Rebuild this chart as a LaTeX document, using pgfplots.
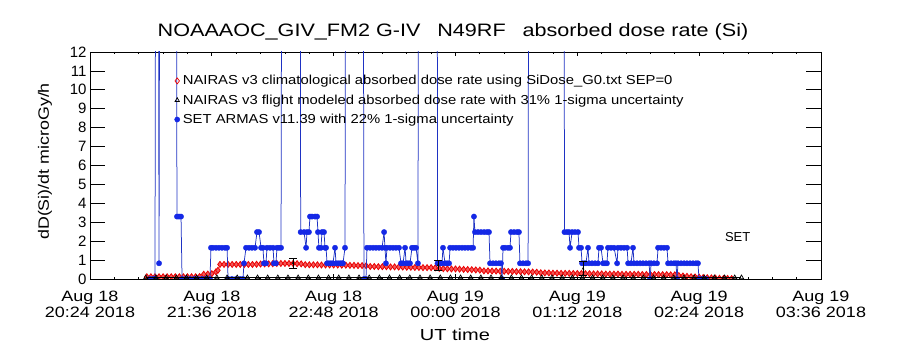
\documentclass[border=0pt]{standalone}
\usepackage{fontspec}
\setmainfont{Liberation Sans}
\usepackage{graphicx}
\usepackage{pgfplots}
\pgfplotsset{compat=1.18}
\definecolor{armas}{RGB}{20,40,230}
\definecolor{armasline}{RGB}{30,50,195}
\definecolor{nairas}{RGB}{235,0,0}
\newcommand{\xl}[2]{\scalebox{1.2}[1]{\begin{tabular}{@{}c@{}}#1\\#2\end{tabular}}}
\begin{document}
\begin{tikzpicture}
\useasboundingbox (-90pt,-71pt) rectangle (810pt,279pt);
\begin{axis}[
  at={(0pt,0pt)}, anchor=south west,
  scale only axis, width=731pt, height=227pt,
  xmin=0, xmax=432, ymin=0, ymax=12,
  clip marker paths=true,
  xtick={0,72,144,216,288,360,432},
  xticklabels={\xl{Aug 18}{20:24 2018},\xl{Aug 18}{21:36 2018},\xl{Aug 18}{22:48 2018},\xl{Aug 19}{00:00 2018},\xl{Aug 19}{01:12 2018},\xl{Aug 19}{02:24 2018},\xl{Aug 19}{03:36 2018}},
  minor x tick num=4,
  ytick={0,1,...,12},
  tick align=inside, tick pos=both, ticklabel pos=left,
  axis line style={line width=0.9pt},
  xtick style={black, line width=0.8pt, /pgfplots/major tick length=4.5pt, /pgfplots/minor tick length=2.3pt},
  ytick style={black, line width=0.8pt, /pgfplots/major tick length=14.6pt},
  xticklabel style={font=\fontsize{15}{16}\selectfont, yshift=-8pt},
  yticklabel style={font=\fontsize{15}{15}\selectfont, /pgf/number format/assume math mode=true},
  title={\scalebox{1.2}[1]{NOAAAOC\_GIV\_FM2 G-IV\hspace{14pt}N49RF\hspace{14pt}absorbed dose rate (Si)}},
  title style={font=\fontsize{18}{18}\selectfont, at={(axis description cs:0.4966,1.0617)}, anchor=center},
  xlabel={\scalebox{1.25}[1]{UT time}},
  xlabel style={font=\fontsize{16}{16}\selectfont, at={(axis description cs:0.4993,-0.2467)}, anchor=center},
  ylabel={\scalebox{1.19}[1]{dD(Si)/dt microGy/h}},
  ylabel style={font=\fontsize{15}{15}\selectfont, at={(axis description cs:-0.0616,0.518)}, anchor=center},
  legend style={at={(axis description cs:0.1155,0.902)}, anchor=north west, draw=none, fill=none,
    font=\fontsize{13}{13}\selectfont, row sep=6.4pt, inner sep=0pt, nodes={inner sep=1pt}, /tikz/column sep=2pt},
  legend cell align=left,
  legend image code/.code={\draw[#1] plot coordinates {(0pt,0pt)};},
]
\addlegendimage{only marks, mark=diamond, mark size=3pt, draw=nairas, mark options={line width=0.7pt}}
\addlegendentry{\scalebox{1.14}[1]{NAIRAS v3 climatological absorbed dose rate using SiDose\_G0.txt SEP=0}}
\addlegendimage{only marks, mark=triangle, mark size=2.5pt, draw=black, mark options={line width=0.7pt}}
\addlegendentry{\scalebox{1.14}[1]{NAIRAS v3 flight modeled absorbed dose rate with 31\% 1-sigma uncertainty}}
\addlegendimage{only marks, mark=*, mark size=2.6pt, draw=armas, fill=armas}
\addlegendentry{\scalebox{1.14}[1]{SET ARMAS v11.39 with 22\% 1-sigma uncertainty}}

% NAIRAS v3 climatological (red diamonds)
\addplot[only marks, mark=diamond*, mark size=3pt, mark options={draw=nairas, fill=nairas!65, line width=0.8pt}, forget plot] coordinates {
(33.6,0.12)(36.0,0.12)(38.4,0.12)(40.8,0.12)(43.2,0.12)(45.6,0.12)(48.0,0.12)(50.4,0.12)
(52.8,0.12)(55.2,0.12)(57.6,0.12)(60.0,0.12)(62.4,0.12)(64.8,0.13)(67.2,0.25)(69.6,0.26)
(72.0,0.28)(74.4,0.38)(75.6,0.46)(76.8,0.77)(79.2,0.77)(81.6,0.77)(84.0,0.77)(86.4,0.77)
(88.8,0.77)(91.2,0.77)(93.6,0.77)(96.0,0.77)(98.4,0.78)(100.8,0.79)(103.2,0.80)(105.6,0.80)
(108.0,0.81)(110.4,0.82)(112.8,0.82)(115.2,0.82)(117.6,0.82)(120.0,0.82)(122.4,0.81)(124.8,0.80)
(127.2,0.76)(129.6,0.75)(132.0,0.75)(134.4,0.75)(136.8,0.74)(139.2,0.74)(141.6,0.74)(144.0,0.74)
(146.4,0.74)(148.8,0.73)(151.2,0.73)(153.6,0.72)(156.0,0.72)(158.4,0.71)(160.8,0.71)(163.2,0.70)
(165.6,0.66)(168.0,0.66)(170.4,0.65)(172.8,0.65)(175.2,0.65)(177.6,0.64)(180.0,0.64)(182.4,0.63)
(184.8,0.63)(187.2,0.62)(189.6,0.62)(192.0,0.61)(194.4,0.61)(196.8,0.60)(199.2,0.60)(201.6,0.60)
(204.0,0.59)(206.4,0.56)(208.8,0.55)(211.2,0.54)(213.6,0.53)(216.0,0.53)(218.4,0.52)(220.8,0.51)
(223.2,0.50)(225.6,0.49)(228.0,0.48)(230.4,0.47)(232.8,0.43)(235.2,0.43)(237.6,0.42)(240.0,0.42)
(242.4,0.41)(244.8,0.41)(247.2,0.40)(249.6,0.40)(252.0,0.39)(254.4,0.39)(256.8,0.38)(259.2,0.38)
(261.6,0.37)(264.0,0.36)(266.4,0.33)(268.8,0.32)(271.2,0.32)(273.6,0.31)(276.0,0.31)(278.4,0.30)
(280.8,0.30)(283.2,0.30)(285.6,0.29)(288.0,0.29)(290.4,0.29)(292.8,0.28)(295.2,0.28)(297.6,0.27)
(300.0,0.27)(302.4,0.27)(304.8,0.26)(307.2,0.26)(309.6,0.26)(312.0,0.26)(314.4,0.25)(316.8,0.25)
(319.2,0.25)(321.6,0.25)(324.0,0.25)(326.4,0.24)(328.8,0.24)(331.2,0.24)(333.6,0.24)(336.0,0.23)
(338.4,0.23)(340.8,0.23)(343.2,0.22)(345.6,0.22)(348.0,0.18)(350.4,0.16)(352.8,0.14)(355.2,0.12)
(357.6,0.11)(360.0,0.10)(362.4,0.08)(364.8,0.07)(367.2,0.06)(369.6,0.05)(372.0,0.04)(374.4,0.03)
(376.8,0.03)(379.2,0.02)
};

% SET ARMAS v11.39 (blue)
\addplot[color=armasline, line width=0.75pt, mark=*, mark size=2.7pt, mark options={fill=armas, draw=armas, line width=0.3pt}, forget plot] coordinates {
(35.5,0)(37.2,0)(38.4,0)(39.0,30)(40.2,30)(40.8,0.83)(41.4,30)(50.8,30)
(51.4,3.3)(52.6,3.3)(53.8,3.3)
(54.4,0)(56.7,0)(59.1,0)(61.5,0)(63.8,0)(66.2,0)(68.6,0)(70.9,0)
(71.5,1.65)(72.7,1.65)(74.5,1.65)(76.2,1.65)(78.0,1.65)(79.8,1.65)(81.0,1.65)
(81.6,0)(83.9,0)(86.3,0)(88.7,0)(90.4,0)
(91.0,0.83)
(92.2,1.65)(94.0,1.65)(95.7,1.65)(97.5,1.65)
(98.7,2.48)(99.9,2.48)
(101.1,1.65)(102.2,1.65)
(102.8,0.83)(104.0,0.83)
(104.6,1.65)(106.4,1.65)(108.2,1.65)
(108.7,0.83)(109.9,0.83)
(110.5,1.65)(111.7,1.65)(112.9,1.65)
(113.5,30)(124.1,30)
(124.5,2.48)(126.5,2.48)
(127.7,1.65)
(128.2,2.48)(129.4,2.48)
(130.0,3.3)(131.2,3.3)(133.0,3.3)(134.2,3.3)
(134.7,2.48)
(135.3,1.65)(136.5,1.65)
(137.1,2.48)(138.3,2.48)
(138.9,1.65)(139.5,1.65)
(140.1,0.83)(141.2,0.83)(142.4,0.83)(143.6,0.83)
(144.8,1.65)
(145.4,0.83)(146.6,0.83)(147.8,0.83)(148.9,0.83)(149.5,0.83)
(150.7,1.65)
(151.3,30)(161.3,30)
(161.9,0)(163.1,0)
(163.7,1.65)(165.5,1.65)(167.3,1.65)(169.0,1.65)(170.8,1.65)(172.6,1.65)
(173.8,2.48)
(174.3,1.65)
(174.9,0.83)
(175.5,1.65)(177.3,1.65)(179.1,1.65)(180.8,1.65)(182.6,1.65)
(183.8,0.83)(185.0,0.83)
(186.2,1.65)
(186.8,0.83)(187.9,0.83)(189.1,0.83)
(190.3,1.65)(191.5,1.65)(192.7,1.65)
(193.8,0.83)
(194.4,30)(205.1,30)
(205.4,0.83)(206.9,0.83)(208.0,0.83)
(208.6,1.65)
(209.8,0.83)(211.0,0.83)(212.2,0.83)
(212.8,1.65)(214.5,1.65)(216.3,1.65)(218.1,1.65)(219.9,1.65)(221.6,1.65)(223.4,1.65)(225.2,1.65)(226.4,1.65)
(226.9,3.3)
(227.5,2.48)(229.3,2.48)(231.1,2.48)(232.9,2.48)(234.6,2.48)(235.8,2.48)
(236.4,0.83)(238.2,0.83)(239.9,0.83)(241.7,0.83)(242.9,0.83)
(243.5,0)
(244.1,1.65)(245.3,1.65)(247.0,1.65)(248.2,1.65)
(248.8,2.48)(250.6,2.48)(252.4,2.48)(253.5,2.48)
(254.1,0.83)(255.9,0.83)(257.7,0.83)(258.9,0.83)
(259.4,30)(280.1,30)
(280.4,2.48)(281.9,2.48)(283.1,2.48)
(283.7,1.65)
(284.9,2.48)(286.6,2.48)(288.4,2.48)
(289.0,1.65)(290.2,1.65)
(290.8,0.83)(292.0,0.83)(293.1,0.83)
(294.3,1.65)
(294.9,0.83)(296.7,0.83)(298.5,0.83)(300.2,0.83)
(300.8,1.65)(302.0,1.65)
(303.2,0.83)(304.4,0.83)(305.5,0.83)
(306.1,1.65)(307.9,1.65)(309.7,1.65)
(311.5,0.83)
(312.0,1.65)(313.8,1.65)(315.6,1.65)(317.4,1.65)
(318.0,0.83)(319.7,0.83)
(320.9,1.65)
(321.5,0.83)(323.3,0.83)(325.1,0.83)(326.8,0.83)(328.6,0.83)(330.4,0.83)
(331.0,0)
(331.6,0.83)(333.3,0.83)(335.1,0.83)
(335.7,1.65)(337.5,1.65)(339.2,1.65)(341.0,1.65)
(341.6,0.83)(343.4,0.83)(345.1,0.83)(346.3,0.83)
(346.9,0)
(347.5,0.83)(349.3,0.83)(351.1,0.83)(352.8,0.83)(354.6,0.83)(356.4,0.83)(358.1,0.83)(359.3,0.83)
(359.9,0)(361.7,0)(364.1,0)
};

% NAIRAS v3 flight modeled (black triangles)
\addplot[black, line width=1.2pt, mark=triangle, mark size=2.5pt, mark options={line width=0.7pt}, forget plot] coordinates {
(33,0.08)(39,0.08)(45,0.08)(51,0.08)(57,0.08)(63,0.08)(69,0.08)(75,0.08)(81,0.08)(87,0.08)
(93,0.08)(99,0.08)(105,0.08)(111,0.08)(117,0.08)(123,0.08)(129,0.08)(135,0.08)(141,0.08)(147,0.08)
(153,0.08)(159,0.08)(165,0.08)(171,0.08)(177,0.08)(183,0.08)(189,0.08)(195,0.08)(201,0.08)(207,0.08)
(213,0.08)(219,0.08)(225,0.08)(231,0.08)(237,0.08)(243,0.08)(249,0.08)(255,0.08)(261,0.08)(267,0.08)
(273,0.08)(279,0.08)(285,0.08)(291,0.08)(297,0.08)(303,0.08)(309,0.08)(315,0.08)(321,0.08)(327,0.08)
(333,0.08)(339,0.08)(345,0.08)(351,0.08)(357,0.08)(363,0.08)(369,0.08)(375,0.08)(381,0.08)(385,0.08)
};
\addplot[only marks, black, mark=triangle, mark size=1.2pt, forget plot,
  error bars/.cd, y dir=both, y explicit,
  error bar style={line width=0.8pt, black},
  error mark options={rotate=90, mark size=4pt, line width=0.8pt, black}] coordinates {
(120.0,0.84) +- (0,0.26)
(205.7,0.72) +- (0,0.28)
(291.4,0.55) +- (0,0.38)
};
\node[font=\fontsize{13}{13}\selectfont, anchor=center] at (axis description cs:0.886,0.185) {SET};
\end{axis}
\end{tikzpicture}
\end{document}
